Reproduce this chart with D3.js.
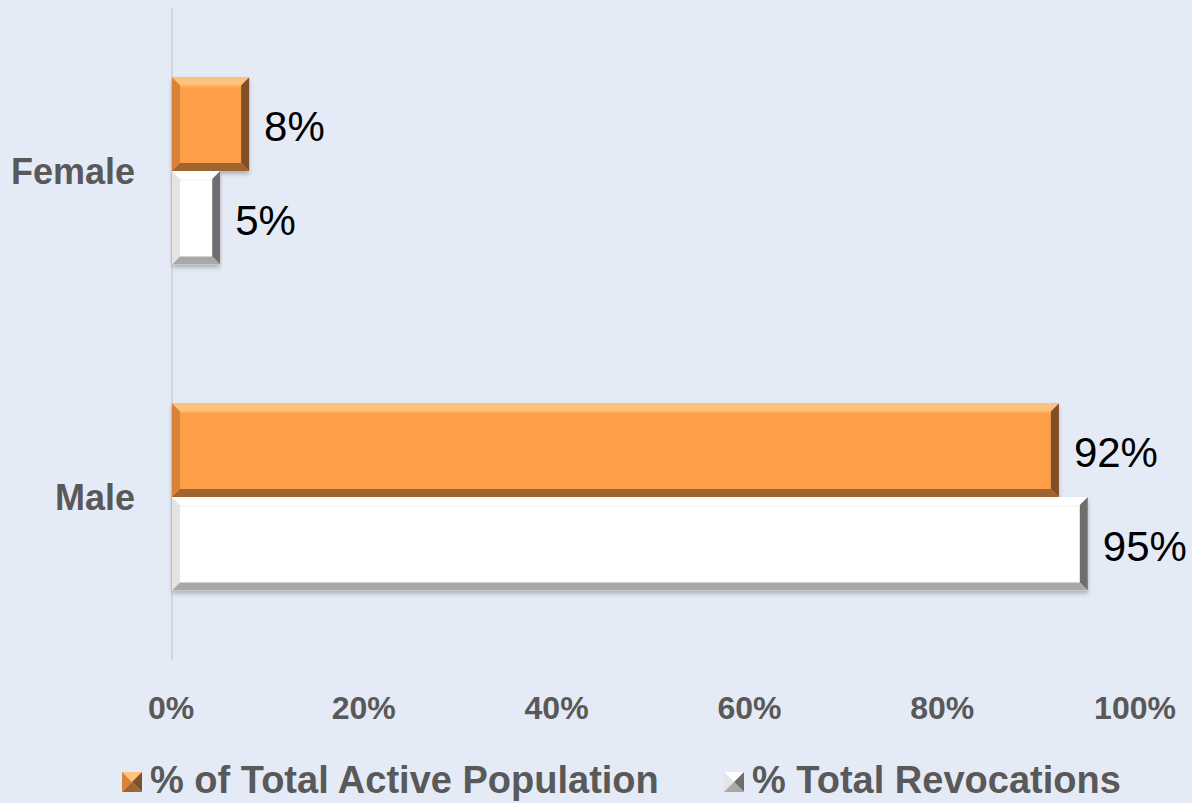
<!DOCTYPE html>
<html><head><meta charset="utf-8">
<script src="https://cdn.jsdelivr.net/npm/d3@7"></script>
<style>body{margin:0;background:#E5EBF6;}svg{display:block;font-family:"Liberation Sans",Arial,sans-serif;}</style>
</head><body>
<script>
const categories = ["Female", "Male"];
const seriesNames = ["% of Total Active Population", "% Total Revocations"];
const activePop = [8, 92];
const revocations = [5, 95];
const tickValues = [0, 20, 40, 60, 80, 100];
const tickLabels = ["0%", "20%", "40%", "60%", "80%", "100%"];

const W = 1192, H = 803;
const svg = d3.select("body").append("svg").attr("width", W).attr("height", H);
svg.append("rect").attr("width", W).attr("height", H).attr("fill", "#E5EBF6");

const x = d3.scaleLinear().domain([0, 100]).range([172, 1136]);
const y = d3.scaleBand().domain(categories).range([8, 660]).paddingInner(0).paddingOuter(0);
const groupH = y.bandwidth() * 0.574;
const sub = d3.scaleBand().domain([0, 1]).range([0, groupH]);

const styles = [
  {fill: "#FF9E4A", top: "#FFC27C", left: "#D98338", right: "#7E5029", bottom: "#A0642F", mid: "#FFB060"},
  {fill: "#FFFFFF", top: "#FFFFFF", left: "#E4E4E4", right: "#6E6E6E", bottom: "#A8A8A8", mid: "#F4F4F4"}
];
const series = [activePop, revocations];

// axis line
svg.append("line").attr("x1", x(0)).attr("x2", x(0)).attr("y1", 8).attr("y2", 660)
  .attr("stroke", "#D2D5DA").attr("stroke-width", 2);

const defs = svg.append("defs");
const f = defs.append("filter").attr("id", "sh").attr("x", "-5%").attr("y", "-10%").attr("width", "110%").attr("height", "130%");
f.append("feDropShadow").attr("dx", 0).attr("dy", 3).attr("stdDeviation", 2).attr("flood-color", "#000").attr("flood-opacity", 0.25);

function bevelBar(g, x0, y0, w, h, st) {
  const b = Math.min(8, w / 3, h / 3);
  g.append("rect").attr("x", x0).attr("y", y0).attr("width", w).attr("height", h).attr("fill", st.fill).attr("filter", "url(#sh)");
  const x1 = x0 + w, y1 = y0 + h;
  const poly = (pts, c) => g.append("polygon").attr("points", pts.map(p => p.join(",")).join(" ")).attr("fill", c);
  poly([[x0, y0], [x1, y0], [x1 - b, y0 + b], [x0 + b, y0 + b]], st.top);
  poly([[x0, y0], [x0 + b, y0 + b], [x0 + b, y1 - b], [x0, y1]], st.left);
  poly([[x1, y0], [x1, y1], [x1 - b, y1 - b], [x1 - b, y0 + b]], st.right);
  poly([[x0, y1], [x0 + b, y1 - b], [x1 - b, y1 - b], [x1, y1]], st.bottom);
  g.append("rect").attr("x", x0 + b).attr("y", y0 + b).attr("width", Math.max(0, w - 2 * b)).attr("height", 2).attr("fill", st.mid).attr("opacity", 0.7);
}

categories.forEach((c, i) => {
  const gy = y(c) + (y.bandwidth() - groupH) / 2;
  series.forEach((s, k) => {
    const by = gy + sub(k), bh = sub.bandwidth();
    const g = svg.append("g");
    bevelBar(g, x(0), by, x(s[i]) - x(0), bh, styles[k]);
    svg.append("text").attr("x", x(s[i]) + 15).attr("y", by + bh / 2 + 17)
      .attr("font-size", 42).attr("fill", "#000")
      .text(s[i] + "%");
  });
  svg.append("text").attr("x", 135).attr("y", y(c) + y.bandwidth() / 2 + 13)
    .attr("text-anchor", "end")
    .attr("font-size", 36).attr("font-weight", "bold").attr("fill", "#595959").text(c);
});

// x tick labels
tickValues.forEach((v, i) => {
  svg.append("text").attr("x", x(v) - 1).attr("y", 719)
    .attr("text-anchor", "middle")
    .attr("font-size", 32).attr("font-weight", "bold").attr("fill", "#595959").text(tickLabels[i]);
});

// legend
const legX = [122, 724];
seriesNames.forEach((n, k) => {
  const g = svg.append("g");
  const st = styles[k];
  const lx = legX[k], ly = 772, s = 20;
  const poly = (pts, c) => g.append("polygon").attr("points", pts.map(p => p.join(",")).join(" ")).attr("fill", c);
  const cx = lx + s / 2, cy = ly + s / 2;
  poly([[lx, ly], [lx + s, ly], [cx, cy]], st.top);
  poly([[lx, ly], [cx, cy], [lx, ly + s]], st.left);
  poly([[lx + s, ly], [lx + s, ly + s], [cx, cy]], st.right);
  poly([[lx, ly + s], [cx, cy], [lx + s, ly + s]], st.bottom);
  svg.append("text").attr("x", lx + 28).attr("y", ly + 21)
    .attr("font-size", 38).attr("font-weight", "bold").attr("fill", "#595959").text(n);
});
</script>
</body></html>
